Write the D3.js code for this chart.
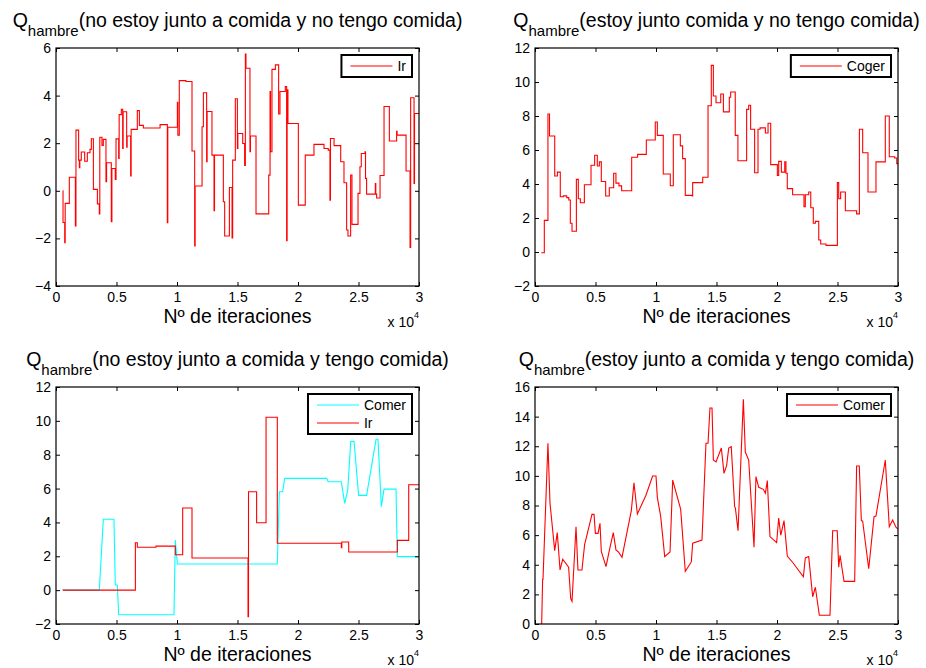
<!DOCTYPE html>
<html>
<head>
  <meta charset="utf-8">
  <title>Q hambre</title>
  <script src="https://d3js.org/d3.v7.min.js"></script>
  <style>
    body { margin: 0; background: #fff; }
    text { font-family: "Liberation Sans", Arial, Helvetica, sans-serif; fill: #000; }
  </style>
</head>
<body>
  <script>
  // iteraciones en unidades de 10^4 (eje "x 10^4")
  var xTicks = [0, 0.5, 1, 1.5, 2, 2.5, 3];

  // panel 1: no estoy junto a comida y no tengo comida -> Ir
  var p1Iter = [0.055,0.058,0.072,0.076,0.11,0.16,0.165,0.187,0.193,0.197,0.209,0.237,0.259,0.281,0.292,0.309,0.342,0.358,0.362,0.38,
    0.391,0.413,0.418,0.457,0.462,0.49,0.496,0.518,0.522,0.54,0.551,0.555,0.584,0.588,0.617,0.621,0.672,0.689,0.722,0.86,
    0.92,0.924,1.003,1.007,1.019,1.074,1.124,1.146,1.15,1.207,1.218,1.245,1.249,1.289,1.306,1.31,1.383,1.394,1.433,1.455,
    1.46,1.482,1.499,1.503,1.543,1.559,1.565,1.57,1.603,1.607,1.653,1.758,1.769,1.773,1.785,1.813,1.84,1.851,1.895,1.906,
    1.91,1.917,2.003,2.06,2.132,2.215,2.25,2.264,2.268,2.298,2.353,2.38,2.402,2.413,2.435,2.446,2.496,2.512,2.523,2.554,
    2.558,2.567,2.639,2.643,2.65,2.678,2.711,2.755,2.815,2.819,2.893,2.926,2.931,2.959,2.963,3.0];
  var p1Ir = [0,-1.33,-2.18,-0.53,0.57,-1.48,2.55,1.29,0.97,1.29,1.63,1.24,1.6,1.74,2.19,0.06,-0.55,-0.97,2.25,1.91,
    2.16,0.38,1.18,-1.3,0.94,0.48,2.18,1.36,3.2,3.42,1.78,3.32,1.83,2.3,0.62,2.58,3.37,2.75,2.64,2.78,
    -1.34,2.67,3.72,2.34,4.63,4.59,1.67,-2.32,0.2,2.69,4.12,1.22,3.33,1.5,-0.84,1.5,-0.46,-1.9,0.14,-1.98,
    1.29,3.87,1.78,2.41,1.99,1.06,5.75,5.15,1.64,2.3,-0.97,0.66,4.17,1.64,5.1,5.29,3.23,4.17,4.38,-2.1,
    4.24,2.83,-0.6,1.5,1.95,1.78,1.71,-0.39,2.2,1.9,1.22,0.34,-1.65,-1.9,0.66,-1.41,-0.11,1.01,1.57,1.64,
    0.52,-0.14,0.3,-0.14,-0.3,0.64,3.54,2.09,2.5,2.34,0.83,-2.38,3.91,0.31,3.25,3.25];

  // panel 2: estoy junto comida y no tengo comida -> Coger
  var p2Iter = [0.052,0.077,0.107,0.12,0.163,0.185,0.209,0.234,0.262,0.279,0.292,0.306,0.342,0.358,0.375,0.408,0.463,0.493,0.515,0.532,
    0.548,0.584,0.614,0.65,0.669,0.694,0.716,0.799,0.848,0.92,0.994,1.011,1.06,1.118,1.143,1.201,1.22,1.242,1.298,1.303,
    1.386,1.43,1.457,1.474,1.496,1.535,1.557,1.606,1.617,1.655,1.677,1.749,1.766,1.782,1.815,1.843,1.86,1.904,1.926,1.948,
    2.003,2.014,2.036,2.064,2.074,2.085,2.129,2.223,2.234,2.262,2.279,2.3,2.317,2.345,2.361,2.405,2.499,2.51,2.526,2.565,
    2.658,2.681,2.708,2.752,2.818,2.895,2.928,2.972,2.99,3.0];
  var p2Coger = [-0.04,1.86,8.12,6.82,4.47,4.7,3.25,3.3,3.2,3.06,1.69,1.22,4.27,3.13,2.9,3.96,5.1,5.69,5.06,5.3,
    4.15,3.29,3.78,4.63,4.05,3.89,3.6,5.57,5.74,6.59,7.65,6.86,4.59,3.9,6.9,6.24,5.49,3.33,3.29,4.08,
    4.4,8.6,10.98,9.18,8.78,9.29,8.24,9.1,9.41,6.86,5.37,8.39,8.63,7.22,4.66,7.22,7.3,7.0,7.57,5.14,
    4.51,5.33,4.7,5.3,4.63,3.73,3.37,2.67,3.37,3.53,2.6,1.69,1.8,0.71,0.47,0.39,4.08,3.13,3.53,2.43,
    2.24,7.22,5.84,3.53,5.3,8.0,5.6,5.53,5.2,5.2];

  // panel 3: no estoy junto a comida y tengo comida -> Comer, Ir
  var p3ComerIter = [0.055,0.358,0.391,0.479,0.49,0.507,0.518,0.975,0.986,1.003,1.829,1.846,1.873,1.89,2.237,2.25,2.358,2.386,2.411,2.436,
    2.463,2.501,2.567,2.645,2.661,2.689,2.711,2.81,2.821,3.0];
  var p3Comer = [0,0,4.19,4.19,0.3,0.3,-1.45,-1.45,2.96,1.54,1.54,5.81,5.81,6.6,6.6,6.4,6.4,5.13,5.92,8.79,
    8.79,5.6,5.6,8.91,8.91,4.93,5.97,5.97,1.98,1.98];
  var p3IrIter = [0.055,0.656,0.672,0.826,0.986,1.047,1.124,1.587,1.591,1.658,1.736,1.829,2.358,2.362,2.419,2.821,2.915,3.0];
  var p3Ir = [0,2.8,2.53,2.6,2.09,4.85,1.9,-1.57,5.81,3.98,10.21,2.77,2.5,2.84,2.25,2.94,6.23,6.23];

  // panel 4: estoy junto a comida y tengo comida -> Comer
  var p4Iter = [0.055,0.063,0.066,0.107,0.124,0.163,0.184,0.207,0.229,0.278,0.295,0.306,0.339,0.355,0.388,0.41,0.471,0.488,0.499,0.521,
    0.537,0.548,0.587,0.614,0.647,0.669,0.691,0.719,0.796,0.818,0.846,0.917,0.972,1.0,1.011,1.039,1.072,1.116,1.138,1.204,
    1.242,1.292,1.303,1.38,1.413,1.43,1.446,1.463,1.474,1.496,1.54,1.562,1.584,1.601,1.622,1.65,1.656,1.678,1.722,1.738,
    1.766,1.81,1.826,1.849,1.887,1.904,1.92,1.942,1.997,2.014,2.031,2.058,2.085,2.135,2.218,2.234,2.262,2.295,2.317,2.35,
    2.438,2.46,2.498,2.51,2.521,2.554,2.642,2.658,2.68,2.697,2.708,2.758,2.802,2.818,2.895,2.928,2.956,2.983,3.0];
  var p4Comer = [0,3.0,3.0,12.2,8.15,4.95,6.17,3.65,4.37,3.83,1.71,1.53,6.57,3.65,3.65,5.36,7.4,7.4,6.12,6.12,
    6.8,4.9,3.87,4.95,6.17,5.0,4.85,4.5,7.65,9.54,7.43,8.69,9.99,9.99,8.55,7.25,4.55,4.86,9.72,7.74,
    3.56,4.19,5.45,5.67,12.2,12.2,14.58,14.58,11.07,10.94,11.88,10.17,10.71,11.88,11.97,7.92,7.83,6.3,15.17,11.61,
    11.07,5.18,9.95,9.23,9.09,8.82,9.68,5.9,5.49,7.16,5.99,6.98,4.59,4.1,3.19,4.46,4.55,1.84,2.48,0.59,
    0.59,6.3,6.3,3.83,4.64,2.88,2.88,10.67,10.67,6.98,6.94,3.73,7.25,7.29,11.07,6.57,7.02,6.53,6.4];

  var width = 926, height = 668;
  var svg = d3.select('body').append('svg')
    .attr('width', width)
    .attr('height', height);

  var panels = [
    {left: 56, top: 48, w: 363, h: 238, yDomain: [-4, 6], yTicks: d3.range(-4, 7, 2),
      title: '(no estoy junto a comida y no tengo comida)',
      series: [{name: 'Ir', xs: p1Iter, ys: p1Ir, color: '#ff0000', step: true}]},
    {left: 535, top: 48, w: 363, h: 238, yDomain: [-2, 12], yTicks: d3.range(-2, 13, 2),
      title: '(estoy junto comida y no tengo comida)',
      series: [{name: 'Coger', xs: p2Iter, ys: p2Coger, color: '#ff0000', step: true}]},
    {left: 56, top: 387, w: 363, h: 237, yDomain: [-2, 12], yTicks: d3.range(-2, 13, 2),
      title: '(no estoy junto a comida y tengo comida)',
      series: [{name: 'Comer', xs: p3ComerIter, ys: p3Comer, color: '#00ffff', step: false},
               {name: 'Ir', xs: p3IrIter, ys: p3Ir, color: '#ff0000', step: true}]},
    {left: 535, top: 387, w: 363, h: 237, yDomain: [0, 16], yTicks: d3.range(0, 17, 2),
      title: '(estoy junto a comida y tengo comida)',
      series: [{name: 'Comer', xs: p4Iter, ys: p4Comer, color: '#ff0000', step: false}]}
  ];

  var fmt = d3.format('~g');

  panels.forEach(function(p, i) {
    var g = svg.append('g').attr('transform', 'translate(' + p.left + ',' + p.top + ')');
    var x = d3.scaleLinear().domain([0, 3]).range([0, p.w]);
    var y = d3.scaleLinear().domain(p.yDomain).range([p.h, 0]);

    g.append('clipPath').attr('id', 'clip' + i)
      .append('rect').attr('width', p.w).attr('height', p.h);

    // lineas
    p.series.forEach(function(s) {
      var line = d3.line()
        .x(function(d) { return x(d[0]); })
        .y(function(d) { return y(d[1]); })
        .curve(s.step ? d3.curveStepAfter : d3.curveLinear);
      g.append('path')
        .datum(d3.zip(s.xs, s.ys))
        .attr('clip-path', 'url(#clip' + i + ')')
        .attr('fill', 'none')
        .attr('stroke', s.color)
        .attr('stroke-width', 1.1)
        .attr('d', line);
    });

    // ejes con ticks hacia dentro
    var axes = [
      g.append('g').attr('transform', 'translate(0,' + p.h + ')')
        .call(d3.axisBottom(x).tickValues(xTicks).tickFormat(fmt).tickSizeInner(-4).tickSizeOuter(0).tickPadding(6)),
      g.append('g')
        .call(d3.axisLeft(y).tickValues(p.yTicks).tickFormat(fmt).tickSizeInner(-4).tickSizeOuter(0).tickPadding(5)),
      g.append('g')
        .call(d3.axisTop(x).tickValues(xTicks).tickFormat('').tickSizeInner(-4).tickSizeOuter(0)),
      g.append('g').attr('transform', 'translate(' + p.w + ',0)')
        .call(d3.axisRight(y).tickValues(p.yTicks).tickFormat('').tickSizeInner(-4).tickSizeOuter(0))
    ];
    axes.forEach(function(a) {
      a.select('.domain').remove();
      a.selectAll('.tick line').attr('stroke', '#000');
      a.selectAll('text').style('font-size', '14px').attr('fill', '#000');
    });

    g.append('rect')
      .attr('width', p.w).attr('height', p.h)
      .attr('fill', 'none').attr('stroke', '#000').attr('stroke-width', 1.2);

    // titulo
    var t = g.append('text')
      .attr('x', p.w / 2).attr('y', -21)
      .attr('text-anchor', 'middle')
      .style('font-size', '19.5px');
    t.append('tspan').text('Q');
    t.append('tspan').attr('dy', 9).style('font-size', '15px').text('hambre');
    t.append('tspan').attr('dy', -9).text(p.title);

    // etiqueta eje x
    g.append('text')
      .attr('x', p.w / 2).attr('y', p.h + 37)
      .attr('text-anchor', 'middle')
      .style('font-size', '19.5px')
      .text('Nº de iteraciones');

    var ex = g.append('text')
      .attr('x', p.w).attr('y', p.h + 41)
      .attr('text-anchor', 'end')
      .style('font-size', '14px');
    ex.append('tspan').text('x 10');
    ex.append('tspan').attr('dy', -9).style('font-size', '9px').text('4');

    // leyenda
    var lg = g.append('g');
    var rowH = 18;
    var texts = [];
    p.series.forEach(function(s, k) {
      lg.append('line')
        .attr('x1', 9).attr('x2', 51)
        .attr('y1', 11 + k * rowH).attr('y2', 11 + k * rowH)
        .attr('stroke', s.color).attr('stroke-width', 1.1);
      texts.push(lg.append('text')
        .attr('x', 56).attr('y', 16 + k * rowH)
        .style('font-size', '14px')
        .text(s.name));
    });
    var tw = d3.max(texts, function(tx) { return tx.node().getComputedTextLength(); });
    var lw = 56 + tw + 6;
    var lh = 22 + (p.series.length - 1) * rowH;
    lg.insert('rect', ':first-child')
      .attr('width', lw).attr('height', lh)
      .attr('fill', '#fff').attr('stroke', '#000').attr('stroke-width', 2);
    lg.attr('transform', 'translate(' + (p.w - 7 - lw) + ',7)');
  });
  </script>
</body>
</html>
